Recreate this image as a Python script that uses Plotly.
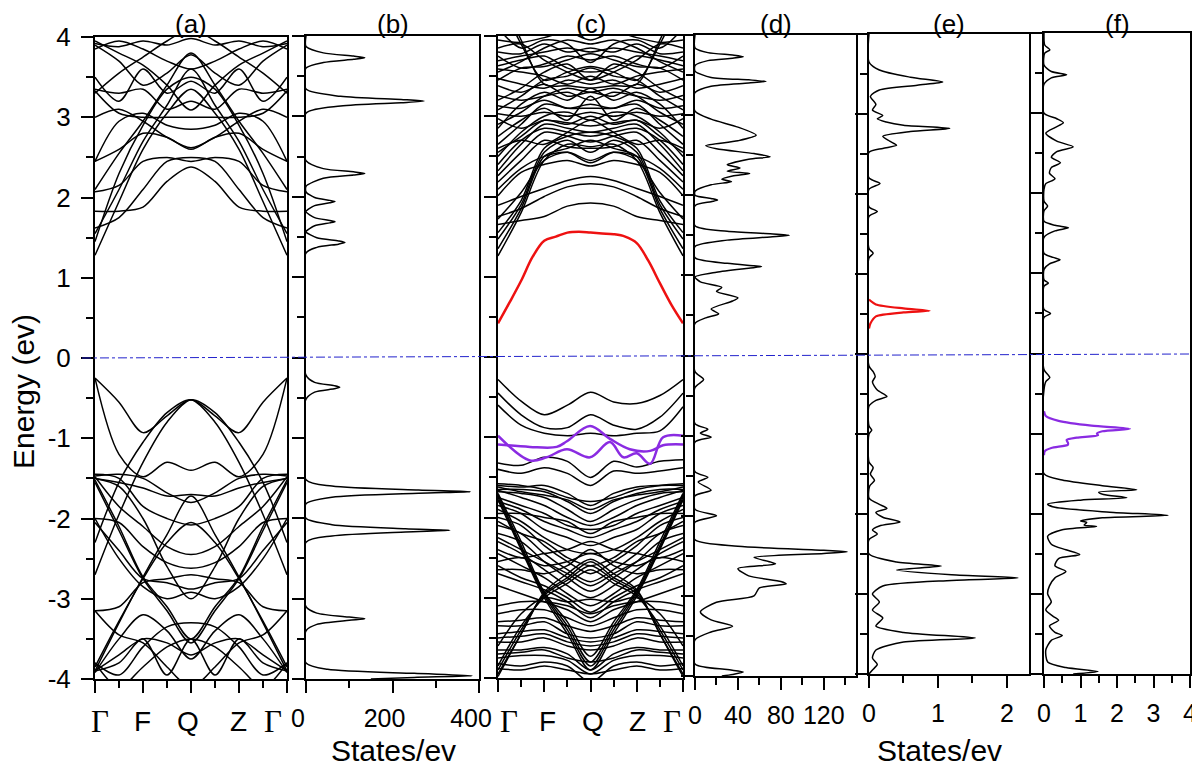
import plotly.graph_objects as go

# the page body adds an 8 px margin, so the figure is 8 px smaller than the window
OFF = 8
W, H = 1200 - OFF, 781 - OFF
FONT = "Liberation Sans"

# ---------------- data ----------------
k9 = [0, 0.5, 1, 1.5, 2, 2.5, 3, 3.5, 4]
k_ticks = [0, 1, 2, 3, 4]
k_labels = ["Γ", "F", "Q", "Z", "Γ"]

# panel (a) valence bands
a_val = [
    [-0.25, -0.55, -0.93, -0.72, -0.52, -0.72, -0.93, -0.55, -0.25],
    [-0.25, -1.20, -1.48, -1.30, -1.40, -1.30, -1.48, -1.20, -0.25],
    [-2.30, -1.55, -1.05, -0.68, -0.52, -0.80, -1.30, -1.95, -2.70],
    [-2.70, -1.95, -1.30, -0.80, -0.52, -0.68, -1.05, -1.55, -2.30],
    [-1.47, -1.45, -1.50, -1.68, -1.80, -1.68, -1.50, -1.45, -1.47],
    [-1.50, -1.55, -1.62, -1.72, -1.70, -1.72, -1.62, -1.55, -1.50],
    [-1.52, -2.10, -2.73, -3.10, -3.50, -3.10, -2.73, -2.10, -1.52],
    [-1.55, -2.15, -2.75, -3.15, -3.55, -3.15, -2.75, -2.15, -1.55],
    [-3.90, -3.30, -2.73, -2.20, -1.72, -2.20, -2.73, -3.30, -3.90],
    [-3.85, -3.28, -2.75, -2.30, -2.05, -2.30, -2.75, -3.28, -3.85],
    [-2.00, -2.05, -2.35, -2.55, -2.62, -2.55, -2.35, -2.05, -2.00],
    [-2.05, -2.40, -2.75, -2.80, -2.88, -2.80, -2.75, -2.40, -2.05],
    [-3.15, -3.10, -2.80, -2.75, -2.70, -2.75, -2.80, -3.10, -3.15],
    [-1.48, -1.85, -2.10, -2.35, -2.45, -2.35, -2.10, -1.85, -1.48],
    [-3.90, -3.70, -3.50, -3.55, -3.70, -3.55, -3.50, -3.70, -3.90],
    [-3.80, -4.10, -3.85, -3.60, -3.50, -3.60, -3.85, -4.10, -3.80],
    [-3.92, -3.50, -3.20, -3.40, -3.75, -3.40, -3.20, -3.50, -3.92],
    [-1.45, -1.50, -1.85, -2.00, -2.08, -2.00, -1.85, -1.50, -1.45],
    [-2.00, -2.50, -2.85, -3.00, -2.92, -3.00, -2.85, -2.50, -2.00],
    [-3.15, -3.45, -3.55, -3.85, -4.10, -3.85, -3.55, -3.45, -3.15],
    [-3.80, -3.95, -3.60, -3.35, -3.30, -3.35, -3.60, -3.95, -3.80],
    [-1.50, -1.60, -2.00, -2.60, -3.00, -2.60, -2.00, -1.60, -1.50],
    [-3.90, -3.80, -3.50, -3.95, -3.50, -3.95, -3.50, -3.80, -3.90],
]
# panel (a) conduction bands
a_con = [
    [1.28, 1.95, 2.60, 3.05, 3.35, 3.05, 2.60, 1.95, 1.28],
    [1.55, 2.10, 2.70, 3.15, 3.60, 3.15, 2.70, 2.10, 1.55],
    [1.83, 1.83, 1.88, 2.20, 2.38, 2.20, 1.88, 1.83, 1.83],
    [2.07, 2.15, 2.45, 2.50, 2.45, 2.50, 2.45, 2.15, 2.07],
    [2.45, 2.60, 2.80, 2.75, 2.60, 2.75, 2.80, 2.60, 2.45],
    [3.33, 3.05, 3.00, 3.00, 3.00, 3.00, 3.00, 3.05, 3.33],
    [3.35, 3.30, 3.35, 3.10, 3.20, 3.10, 3.35, 3.30, 3.35],
    [3.90, 3.70, 3.40, 3.55, 3.78, 3.55, 3.40, 3.70, 3.90],
    [3.95, 3.80, 3.65, 3.40, 3.09, 3.40, 3.65, 3.80, 3.95],
    [3.85, 3.95, 3.85, 3.70, 3.60, 3.70, 3.85, 3.95, 3.85],
    [2.45, 2.95, 3.05, 2.90, 2.85, 2.90, 3.05, 2.95, 2.45],
    [1.45, 2.30, 2.90, 3.35, 3.50, 3.35, 2.90, 2.30, 1.45],
    [2.10, 2.55, 2.95, 3.40, 3.80, 3.40, 2.95, 2.55, 2.10],
    [3.00, 3.10, 2.95, 2.75, 2.62, 2.75, 2.95, 3.10, 3.00],
    [3.30, 3.55, 3.75, 3.95, 4.10, 3.95, 3.75, 3.55, 3.30],
    [3.92, 3.88, 3.95, 3.90, 3.98, 3.90, 3.95, 3.88, 3.92],
    [3.50, 3.20, 3.60, 3.30, 3.45, 3.30, 3.60, 3.20, 3.50],
    [1.62, 1.75, 2.10, 2.45, 2.50, 2.45, 2.10, 1.75, 1.62],
]

# panel (c) conduction bands (black)
c_con = [
    [1.26, 1.80, 2.45, 2.65, 2.62, 2.65, 2.45, 1.80, 1.26],
    [1.35, 1.85, 2.50, 2.60, 2.70, 2.60, 2.50, 1.85, 1.35],
    [1.47, 1.90, 2.55, 2.70, 2.55, 2.70, 2.55, 1.90, 1.47],
    [1.55, 1.95, 2.60, 2.75, 2.80, 2.75, 2.60, 1.95, 1.55],
    [1.72, 2.05, 2.45, 2.55, 2.45, 2.55, 2.45, 2.05, 1.72],
    [1.65, 1.70, 1.75, 1.88, 1.92, 1.88, 1.75, 1.70, 1.65],
    [1.75, 1.85, 2.00, 2.12, 2.16, 2.12, 2.00, 1.85, 1.75],
    [1.89, 2.00, 2.10, 2.20, 2.25, 2.20, 2.10, 2.00, 1.89],
    [2.01, 2.30, 2.40, 2.45, 2.38, 2.45, 2.40, 2.30, 2.01],
    [2.09, 2.35, 2.50, 2.55, 2.42, 2.55, 2.50, 2.35, 2.09],
    [2.18, 2.45, 2.70, 2.62, 2.60, 2.62, 2.70, 2.45, 2.18],
    [2.26, 2.55, 2.80, 2.75, 2.68, 2.75, 2.80, 2.55, 2.26],
    [2.32, 2.65, 2.90, 2.85, 2.80, 2.85, 2.90, 2.65, 2.32],
    [2.97, 2.85, 2.95, 2.92, 2.88, 2.92, 2.95, 2.85, 2.97],
    [3.03, 3.00, 3.05, 3.00, 3.05, 3.00, 3.05, 3.00, 3.03],
    [3.13, 3.10, 3.20, 3.10, 3.15, 3.10, 3.20, 3.10, 3.13],
    [3.26, 3.20, 3.25, 3.30, 3.20, 3.30, 3.25, 3.20, 3.26],
    [3.38, 3.30, 3.40, 3.25, 3.30, 3.25, 3.40, 3.30, 3.38],
    [3.47, 3.40, 3.35, 3.45, 3.40, 3.45, 3.35, 3.40, 3.47],
    [3.59, 3.55, 3.50, 3.40, 3.50, 3.40, 3.50, 3.55, 3.59],
    [3.63, 3.70, 3.75, 3.60, 3.55, 3.60, 3.75, 3.70, 3.63],
    [3.69, 3.75, 3.80, 3.85, 3.80, 3.85, 3.80, 3.75, 3.69],
    [4.10, 3.85, 3.95, 3.90, 3.67, 3.90, 3.95, 3.85, 4.10],
    [4.60, 3.95, 3.40, 3.38, 3.35, 3.38, 3.40, 3.95, 4.60],
    [4.50, 3.90, 3.45, 3.55, 3.62, 3.55, 3.45, 3.90, 4.50],
    [2.60, 2.70, 2.65, 2.80, 2.95, 2.80, 2.65, 2.70, 2.60],
    [2.75, 2.95, 3.10, 2.95, 3.25, 2.95, 3.10, 2.95, 2.75],
    [2.85, 3.15, 3.30, 3.20, 3.35, 3.20, 3.30, 3.15, 2.85],
    [3.75, 3.60, 3.65, 3.75, 3.70, 3.75, 3.65, 3.60, 3.75],
    [3.85, 3.90, 3.70, 3.55, 3.45, 3.55, 3.70, 3.90, 3.85],
    [2.40, 2.70, 2.85, 2.80, 2.75, 2.80, 2.85, 2.70, 2.40],
    [2.50, 2.80, 3.00, 3.05, 2.95, 3.05, 3.00, 2.80, 2.50],
    [2.65, 2.90, 3.15, 3.10, 3.10, 3.10, 3.15, 2.90, 2.65],
    [2.90, 3.05, 3.25, 3.35, 3.30, 3.35, 3.25, 3.05, 2.90],
    [3.08, 3.25, 3.45, 3.50, 3.60, 3.50, 3.45, 3.25, 3.08],
    [3.20, 3.35, 3.55, 3.65, 3.45, 3.65, 3.55, 3.35, 3.20],
    [3.45, 3.60, 3.62, 3.70, 3.78, 3.70, 3.62, 3.60, 3.45],
    [3.55, 3.68, 3.85, 3.95, 3.90, 3.95, 3.85, 3.68, 3.55],
    [3.80, 3.78, 3.90, 3.80, 3.85, 3.80, 3.90, 3.78, 3.80],
    [3.95, 3.92, 3.98, 4.05, 3.95, 4.05, 3.98, 3.92, 3.95],
    [2.55, 2.75, 2.95, 2.90, 3.00, 2.90, 2.95, 2.75, 2.55],
]
# panel (c) valence bands (black)
c_val = [
    [-0.28, -0.55, -0.72, -0.60, -0.44, -0.56, -0.58, -0.48, -0.28],
    [-0.45, -0.72, -0.88, -0.88, -0.72, -0.85, -0.90, -0.75, -0.45],
    [-0.60, -0.85, -0.95, -0.98, -0.95, -0.98, -0.95, -0.92, -0.62],
    [-1.32, -1.35, -1.25, -1.30, -1.50, -1.30, -1.37, -1.30, -1.28],
    [-1.40, -1.45, -1.38, -1.45, -1.60, -1.42, -1.45, -1.42, -1.38],
    [-1.60, -1.62, -1.60, -1.70, -1.85, -1.70, -1.62, -1.60, -1.60],
    [-1.65, -1.65, -1.68, -1.80, -1.95, -1.80, -1.70, -1.65, -1.65],
    [-1.68, -1.70, -1.75, -1.90, -2.05, -1.90, -1.78, -1.70, -1.68],
    [-1.70, -2.30, -2.93, -3.30, -3.73, -3.30, -2.90, -2.30, -1.70],
    [-1.72, -2.35, -2.95, -3.35, -3.80, -3.35, -2.92, -2.35, -1.72],
    [-1.75, -2.38, -2.97, -3.40, -3.85, -3.40, -2.95, -2.38, -1.75],
    [-3.98, -3.45, -2.93, -2.70, -2.52, -2.70, -2.90, -3.45, -3.98],
    [-3.95, -3.45, -2.95, -2.75, -2.55, -2.75, -2.92, -3.45, -3.95],
    [-3.90, -3.40, -2.97, -2.78, -2.60, -2.78, -2.95, -3.40, -3.90],
    [-1.80, -1.90, -2.05, -2.15, -2.25, -2.15, -2.05, -1.90, -1.80],
    [-1.85, -1.95, -2.15, -2.25, -2.35, -2.25, -2.15, -1.95, -1.85],
    [-1.90, -2.05, -2.25, -2.40, -2.45, -2.40, -2.25, -2.05, -1.90],
    [-2.00, -2.10, -2.35, -2.55, -2.70, -2.55, -2.35, -2.10, -2.00],
    [-2.10, -2.20, -2.45, -2.65, -2.80, -2.65, -2.45, -2.20, -2.10],
    [-2.20, -2.30, -2.55, -2.75, -2.92, -2.75, -2.55, -2.30, -2.20],
    [-2.30, -2.45, -2.65, -2.85, -3.00, -2.85, -2.65, -2.45, -2.30],
    [-2.45, -2.60, -2.75, -2.95, -3.10, -2.95, -2.75, -2.60, -2.45],
    [-2.60, -2.75, -2.85, -3.00, -3.18, -3.00, -2.85, -2.75, -2.60],
    [-3.10, -3.05, -3.05, -3.10, -3.20, -3.10, -3.05, -3.05, -3.10],
    [-3.20, -3.15, -3.15, -3.25, -3.35, -3.25, -3.15, -3.15, -3.20],
    [-3.30, -3.28, -3.25, -3.35, -3.42, -3.35, -3.25, -3.28, -3.30],
    [-3.45, -3.42, -3.40, -3.50, -3.55, -3.50, -3.40, -3.42, -3.45],
    [-3.55, -3.55, -3.50, -3.60, -3.65, -3.60, -3.50, -3.55, -3.55],
    [-3.65, -3.65, -3.62, -3.70, -3.90, -3.70, -3.62, -3.65, -3.65],
    [-3.75, -3.72, -3.72, -3.78, -3.95, -3.78, -3.72, -3.72, -3.75],
    [-3.82, -3.85, -3.80, -3.85, -4.05, -3.85, -3.80, -3.85, -3.82],
    [-2.40, -2.50, -2.45, -2.40, -2.30, -2.40, -2.45, -2.50, -2.40],
    [-2.55, -2.50, -2.60, -2.55, -2.45, -2.55, -2.60, -2.50, -2.55],
    [-2.65, -2.65, -2.70, -2.60, -2.40, -2.60, -2.70, -2.65, -2.65],
    [-1.95, -1.95, -2.00, -2.05, -2.20, -2.05, -2.00, -1.95, -1.95],
    [-3.60, -3.20, -3.00, -3.05, -3.02, -3.05, -3.00, -3.20, -3.60],
    [-1.62, -1.68, -1.72, -1.78, -1.90, -1.78, -1.72, -1.68, -1.62],
    [-1.58, -1.60, -1.65, -1.75, -1.80, -1.75, -1.65, -1.60, -1.58],
    [-1.66, -1.75, -1.85, -2.00, -2.10, -2.00, -1.85, -1.75, -1.66],
    [-1.75, -1.85, -1.95, -2.10, -2.15, -2.10, -1.95, -1.85, -1.75],
    [-2.05, -2.20, -2.30, -2.50, -2.60, -2.50, -2.30, -2.20, -2.05],
    [-2.25, -2.40, -2.55, -2.70, -2.85, -2.70, -2.55, -2.40, -2.25],
    [-2.70, -2.80, -2.90, -3.05, -3.25, -3.05, -2.90, -2.80, -2.70],
    [-2.85, -2.95, -3.05, -3.15, -3.30, -3.15, -3.05, -2.95, -2.85],
    [-3.35, -3.35, -3.30, -3.45, -3.50, -3.45, -3.30, -3.35, -3.35],
    [-3.50, -3.48, -3.45, -3.55, -3.60, -3.55, -3.45, -3.48, -3.50],
    [-3.70, -3.68, -3.65, -3.75, -3.80, -3.75, -3.65, -3.68, -3.70],
    [-3.88, -3.90, -3.85, -3.90, -3.95, -3.90, -3.85, -3.90, -3.88],
    [-1.78, -2.40, -3.00, -3.45, -3.90, -3.45, -2.98, -2.40, -1.78],
    [-3.85, -3.35, -3.00, -2.82, -2.65, -2.82, -2.98, -3.35, -3.85],
]
# highlighted bands in (c)
c_red_k = [0, 0.25, 0.5, 0.75, 1.0, 1.25, 1.5, 1.75, 2.0, 2.25, 2.5, 2.75, 3.0, 3.25, 3.5, 3.75, 4.0]
c_red_E = [0.42, 0.68, 0.95, 1.25, 1.45, 1.50, 1.55, 1.56, 1.55, 1.54, 1.53, 1.50, 1.42, 1.20, 0.92, 0.65, 0.42]
c_pur1_k = [0, 0.69, 1.05, 1.49, 1.99, 2.42, 2.71, 3.0, 3.29, 3.57, 4.0]
c_pur1_E = [-0.98, -1.29, -1.25, -1.15, -1.25, -1.06, -1.25, -1.20, -1.33, -1.00, -0.98]
c_pur2_k = [0, 0.69, 1.27, 1.49, 1.99, 2.42, 2.85, 3.29, 3.57, 4.0]
c_pur2_E = [-1.09, -1.12, -1.12, -1.05, -0.86, -1.02, -1.15, -1.17, -1.10, -1.09]

# DOS curves: (energy, states/eV)
dos_b = [(4.0, 0), (3.87, 0), (3.79, 40), (3.75, 110), (3.73, 136), (3.71, 110), (3.67, 40), (3.60, 0),
         (3.34, 0), (3.25, 80), (3.21, 220), (3.19, 273), (3.17, 220), (3.13, 80), (3.04, 0),
         (2.45, 0), (2.35, 40), (2.31, 110), (2.29, 136), (2.27, 110), (2.23, 40), (2.13, 0),
         (2.06, 0), (1.99, 20), (1.955, 55), (1.94, 67), (1.925, 55), (1.89, 20), (1.82, 0),
         (1.81, 0), (1.74, 20), (1.705, 55), (1.69, 67), (1.675, 55), (1.64, 20), (1.57, 0),
         (1.56, 0), (1.49, 25), (1.45, 75), (1.43, 90), (1.41, 75), (1.37, 25), (1.30, 0),
         (-0.22, 0), (-0.31, 20), (-0.35, 65), (-0.37, 78), (-0.39, 65), (-0.43, 20), (-0.52, 0),
         (-1.52, 0), (-1.60, 60), (-1.65, 260), (-1.67, 380), (-1.69, 260), (-1.74, 60), (-1.82, 0),
         (-2.00, 0), (-2.08, 60), (-2.13, 230), (-2.15, 333), (-2.17, 230), (-2.22, 60), (-2.30, 0),
         (-3.10, 0), (-3.18, 25), (-3.23, 100), (-3.25, 136), (-3.27, 100), (-3.32, 25), (-3.40, 0),
         (-3.80, 0), (-3.88, 50), (-3.93, 250), (-3.96, 384), (-3.98, 250), (-4.0, 150)]

dos_d = [(4.0, 0), (3.84, 0), (3.78, 12), (3.75, 35), (3.73, 45), (3.71, 35), (3.68, 12), (3.62, 0),
         (3.55, 0), (3.47, 15), (3.44, 50), (3.42, 66), (3.40, 50), (3.36, 15), (3.28, 0),
         (3.05, 0), (2.95, 15), (2.85, 40), (2.75, 57), (2.68, 40), (2.62, 10), (2.58, 20), (2.52, 55),
         (2.48, 70), (2.45, 50), (2.38, 30), (2.34, 42), (2.30, 30), (2.27, 51), (2.24, 35), (2.20, 25),
         (2.17, 34), (2.13, 15), (2.05, 0), (2.00, 0), (1.96, 15), (1.94, 21), (1.92, 15), (1.87, 0),
         (1.62, 0), (1.55, 30), (1.52, 70), (1.50, 88), (1.48, 70), (1.44, 30), (1.36, 0),
         (1.22, 0), (1.15, 30), (1.12, 55), (1.11, 62), (1.09, 50), (1.04, 20), (0.98, 0),
         (0.92, 5), (0.85, 25), (0.80, 20), (0.72, 40), (0.68, 35), (0.58, 15), (0.52, 22), (0.47, 10), (0.40, 0),
         (-0.20, 0), (-0.30, 8), (-0.40, 0),
         (-0.85, 0), (-0.92, 12), (-0.97, 5), (-1.02, 15), (-1.08, 0),
         (-1.45, 0), (-1.52, 12), (-1.58, 3), (-1.68, 15), (-1.75, 0),
         (-1.92, 0), (-2.00, 20), (-2.08, 0),
         (-2.30, 0), (-2.38, 40), (-2.43, 120), (-2.45, 142), (-2.47, 120), (-2.52, 55), (-2.60, 75),
         (-2.66, 40), (-2.75, 50), (-2.82, 80), (-2.85, 85), (-2.90, 60), (-3.00, 55), (-3.08, 20),
         (-3.20, 5), (-3.30, 15), (-3.38, 35), (-3.45, 15), (-3.55, 0),
         (-3.85, 0), (-3.92, 30), (-3.95, 45), (-3.98, 35), (-4.0, 25)]

dos_e = [(4.0, 0), (3.65, 0), (3.55, 0.15), (3.46, 0.6), (3.40, 1.07), (3.36, 0.7), (3.30, 0.15),
         (3.22, 0.02), (3.12, 0.10), (3.05, 0.05), (2.98, 0.20), (2.94, 0.12), (2.90, 0.25), (2.86, 0.5),
         (2.82, 1.17), (2.78, 0.6), (2.72, 0.2), (2.66, 0.3), (2.61, 0.4), (2.57, 0.2), (2.52, 0),
         (2.20, 0), (2.13, 0.16), (2.06, 0), (1.84, 0), (1.78, 0.12), (1.72, 0),
         (1.32, 0), (1.26, 0.06), (1.20, 0), (-0.15, 0), (-0.22, 0.06), (-0.28, 0.09), (-0.35, 0.05),
         (-0.45, 0.12), (-0.53, 0.26), (-0.58, 0.10), (-0.65, 0), (-0.90, 0), (-0.95, 0.04), (-1.00, 0),
         (-1.35, 0), (-1.42, 0.06), (-1.50, 0.02), (-1.58, 0.08), (-1.65, 0.01),
         (-1.80, 0), (-1.88, 0.15), (-1.93, 0.26), (-1.98, 0.10), (-2.04, 0.20), (-2.10, 0.45),
         (-2.15, 0.15), (-2.20, 0.05), (-2.25, 0.12), (-2.32, 0),
         (-2.50, 0), (-2.60, 0.4), (-2.65, 1.05), (-2.70, 0.4), (-2.76, 1.2), (-2.80, 2.16), (-2.83, 1.2),
         (-2.90, 0.2), (-3.00, 0.05), (-3.10, 0.15), (-3.20, 0.05), (-3.30, 0.2), (-3.40, 0.1),
         (-3.48, 0.5), (-3.55, 1.54), (-3.60, 0.5), (-3.70, 0.1), (-3.80, 0.05), (-3.88, 0.12),
         (-3.95, 0.05), (-4.0, 0)]
dos_e_red = [(0.68, 0), (0.62, 0.1), (0.57, 0.5), (0.54, 0.88), (0.52, 0.5), (0.47, 0.1), (0.38, 0.02), (0.32, 0)]

dos_f = [(4.0, 0), (3.85, 0.02), (3.79, 0.16), (3.75, 0.02), (3.60, 0), (3.52, 0.2), (3.48, 0.62), (3.44, 0.2),
         (3.36, 0), (3.00, 0), (2.93, 0.35), (2.88, 0.53), (2.82, 0.3), (2.75, 0.05), (2.65, 0.35),
         (2.58, 0.8), (2.52, 0.35), (2.45, 0.2), (2.38, 0.45), (2.32, 0.2), (2.25, 0.15), (2.18, 0.3),
         (2.12, 0.05), (2.05, 0), (1.90, 0), (1.84, 0.1), (1.78, 0), (1.65, 0), (1.60, 0.3), (1.57, 0.67),
         (1.53, 0.3), (1.45, 0), (1.25, 0), (1.20, 0.25), (1.17, 0.44), (1.12, 0.15), (1.05, 0),
         (0.92, 0), (0.88, 0.12), (0.84, 0), (0.55, 0), (0.50, 0.18), (0.45, 0),
         (-0.20, 0), (-0.26, 0.10), (-0.30, 0.16), (-0.35, 0.05), (-0.45, 0), (-1.50, 0),
         (-1.58, 0.5), (-1.65, 1.6), (-1.70, 2.54), (-1.73, 1.5), (-1.76, 1.63), (-1.80, 2.27), (-1.83, 1.0),
         (-1.88, 0.1), (-1.92, 0.3), (-1.98, 1.8), (-2.02, 3.4), (-2.05, 1.6), (-2.09, 1.0), (-2.11, 1.17),
         (-2.14, 1.1), (-2.16, 1.44), (-2.20, 0.5), (-2.28, 0.1), (-2.38, 0.2), (-2.45, 0.6), (-2.51, 0.98),
         (-2.56, 0.4), (-2.65, 0.3), (-2.72, 0.6), (-2.80, 0.3), (-2.90, 0.15), (-3.00, 0.1), (-3.10, 0.2),
         (-3.20, 0.05), (-3.28, 0.25), (-3.33, 0.4), (-3.40, 0.15), (-3.48, 0.3), (-3.52, 0.5), (-3.58, 0.2),
         (-3.70, 0.05), (-3.85, 0.1), (-3.92, 0.6), (-3.97, 1.48), (-4.0, 0.8)]
dos_f_purple = [(-0.72, 0), (-0.78, 0.05), (-0.84, 0.4), (-0.90, 1.3), (-0.94, 2.36), (-0.97, 1.6), (-1.00, 1.45),
                (-1.02, 1.48), (-1.05, 0.9), (-1.08, 0.62), (-1.12, 0.66), (-1.14, 0.65), (-1.18, 0.2),
                (-1.22, 0.02), (-1.27, 0)]

panel_titles = ["(a)", "(b)", "(c)", "(d)", "(e)", "(f)"]
energy_ticks = [-4, -3, -2, -1, 0, 1, 2, 3, 4]
b_ticks = [0, 200, 400]
d_ticks = [0, 40, 80, 120]
e_ticks = [0, 1, 2]
f_ticks = [0, 1, 2, 3, 4]

# ---------------- layout helpers (window pixels -> paper fractions) ----------------
def px(x):
    return (x - OFF) / W

def py(y):
    return 1 - (y - OFF) / H

# pixel boxes (left, right, top, bottom) of the six panels in the window
boxes = [(95, 287, 37, 679), (306, 479, 36, 679), (498, 683, 36, 678),
         (695, 856, 35, 676), (869, 1029, 34, 674), (1044, 1190, 33, 674)]
xranges = [[0, 4], [0, 400], [0, 4], [0, 150], [0, 2.32], [0, 4]]
# horizontal pixel offsets of the k-point labels (as placed in the original figure)
k_label_shift_a = [5, -1, -3, -1, -14]
k_label_shift_c = [11, 3, 2, 1, -11]

fig = go.Figure()


def bands_trace(bands, kv, ax, color="black", width=1.5):
    xs, ys = [], []
    for b in bands:
        xs += list(kv) + [None]
        ys += list(b) + [None]
    return go.Scatter(x=xs, y=ys, mode="lines", xaxis="x" + ax, yaxis="y" + ax,
                      line=dict(color=color, width=width, shape="spline", smoothing=0.9),
                      hoverinfo="skip", showlegend=False)


def dos_trace(pairs, ax, color="black", width=1.5):
    return go.Scatter(x=[p[1] for p in pairs], y=[p[0] for p in pairs], mode="lines",
                      xaxis="x" + ax, yaxis="y" + ax,
                      line=dict(color=color, width=width, shape="spline", smoothing=0.7),
                      hoverinfo="skip", showlegend=False)


fig.add_trace(bands_trace(a_val + a_con, k9, ""))
fig.add_trace(dos_trace(dos_b, "2"))
fig.add_trace(bands_trace(c_val + c_con, k9, "3"))
fig.add_trace(go.Scatter(x=c_red_k, y=c_red_E, mode="lines", xaxis="x3", yaxis="y3",
                         line=dict(color="#ee1111", width=2.5, shape="spline"), showlegend=False))
fig.add_trace(go.Scatter(x=c_pur1_k, y=c_pur1_E, mode="lines", xaxis="x3", yaxis="y3",
                         line=dict(color="#8a2be2", width=2.5, shape="spline"), showlegend=False))
fig.add_trace(go.Scatter(x=c_pur2_k, y=c_pur2_E, mode="lines", xaxis="x3", yaxis="y3",
                         line=dict(color="#8a2be2", width=2.5, shape="spline"), showlegend=False))
fig.add_trace(dos_trace(dos_d, "4"))
fig.add_trace(dos_trace(dos_e, "5"))
fig.add_trace(dos_trace(dos_e_red, "5", color="#ee1111", width=2.2))
fig.add_trace(dos_trace(dos_f, "6"))
fig.add_trace(dos_trace(dos_f_purple, "6", color="#8a2be2", width=2.2))

layout = dict(width=W, height=H, margin=dict(l=0, r=0, t=0, b=0, pad=0),
              plot_bgcolor="white", paper_bgcolor="white",
              font=dict(family=FONT, color="black"))

xtick_sets = [
    (k_ticks, [""] * 5, [0.5, 1.5, 2.5, 3.5], 0),
    (b_ticks, [str(v) for v in b_ticks], [100, 300], -8),
    (k_ticks, [""] * 5, [0.5, 1.5, 2.5, 3.5], 0),
    (d_ticks, [str(v) for v in d_ticks], [20, 60, 100, 140], 0),
    (e_ticks, [str(v) for v in e_ticks], [0.5, 1.5], 0),
    (f_ticks, [str(v) for v in f_ticks], [0.5, 1.5, 2.5, 3.5], 0),
]

for i, (box, xr, xt) in enumerate(zip(boxes, xranges, xtick_sets)):
    l, r, t, b = box
    sx = "" if i == 0 else str(i + 1)
    common = dict(showline=True, linewidth=2, linecolor="black", mirror=True, showgrid=False,
                  zeroline=False, ticks="outside", tickwidth=2, tickcolor="black", ticklen=12,
                  automargin=False)
    layout["xaxis" + sx] = dict(domain=[px(l), px(r)], range=xr, anchor="y" + sx,
                                tickmode="array", tickvals=xt[0], ticktext=xt[1],
                                tickfont=dict(size=25, family=FONT), ticklabelshift=xt[3],
                                ticklabelstandoff=4,
                                minor=dict(tickvals=xt[2], ticks="outside", ticklen=7, tickwidth=2,
                                           tickcolor="black", showgrid=False),
                                **common)
    layout["yaxis" + sx] = dict(domain=[py(b), py(t)], range=[-4, 4], anchor="x" + sx,
                                tickmode="array", tickvals=energy_ticks,
                                ticktext=[str(v) for v in energy_ticks] if i == 0 else [""] * 9,
                                tickfont=dict(size=26, family=FONT), ticklabelstandoff=5,
                                minor=dict(tickvals=[-3.5, -2.5, -1.5, -0.5, 0.5, 1.5, 2.5, 3.5],
                                           ticks="outside", ticklen=7, tickwidth=2,
                                           tickcolor="black", showgrid=False),
                                **common)

fig.update_layout(**layout)

ann = []
for (l, r, t, b), title in zip(boxes, panel_titles):
    ann.append(dict(x=px((l + r) / 2), y=py(24), xref="paper", yref="paper", text=title,
                    showarrow=False, font=dict(size=26, family=FONT), xanchor="center", yanchor="middle"))
# k-point labels of the band-structure panels
for axref, shifts in (("x", k_label_shift_a), ("x3", k_label_shift_c)):
    for kv, lab, sh in zip(k_ticks, k_labels, shifts):
        if lab == "Γ":
            fnt = dict(size=31, family="Liberation Serif")
        else:
            fnt = dict(size=28, family=FONT)
        ann.append(dict(x=kv, y=py(721), xref=axref, yref="paper", text=lab, showarrow=False,
                        font=fnt, xanchor="center", yanchor="middle", xshift=sh))
ann.append(dict(x=px(393), y=py(750), xref="paper", yref="paper", text="States/ev", showarrow=False,
                font=dict(size=30, family=FONT), xanchor="center", yanchor="middle"))
ann.append(dict(x=px(939), y=py(750), xref="paper", yref="paper", text="States/ev", showarrow=False,
                font=dict(size=30, family=FONT), xanchor="center", yanchor="middle"))
ann.append(dict(x=px(24), y=py(392), xref="paper", yref="paper", text="Energy (ev)", showarrow=False,
                textangle=-90, font=dict(size=30, family=FONT), xanchor="center", yanchor="middle"))
fig.update_layout(annotations=ann)

# Fermi level line
fig.add_shape(type="line", xref="paper", yref="paper", x0=px(82), x1=px(1190), y0=py(358), y1=py(354),
              line=dict(color="#2222cc", width=1, dash="dashdot"))

fig.write_html("out.html")
